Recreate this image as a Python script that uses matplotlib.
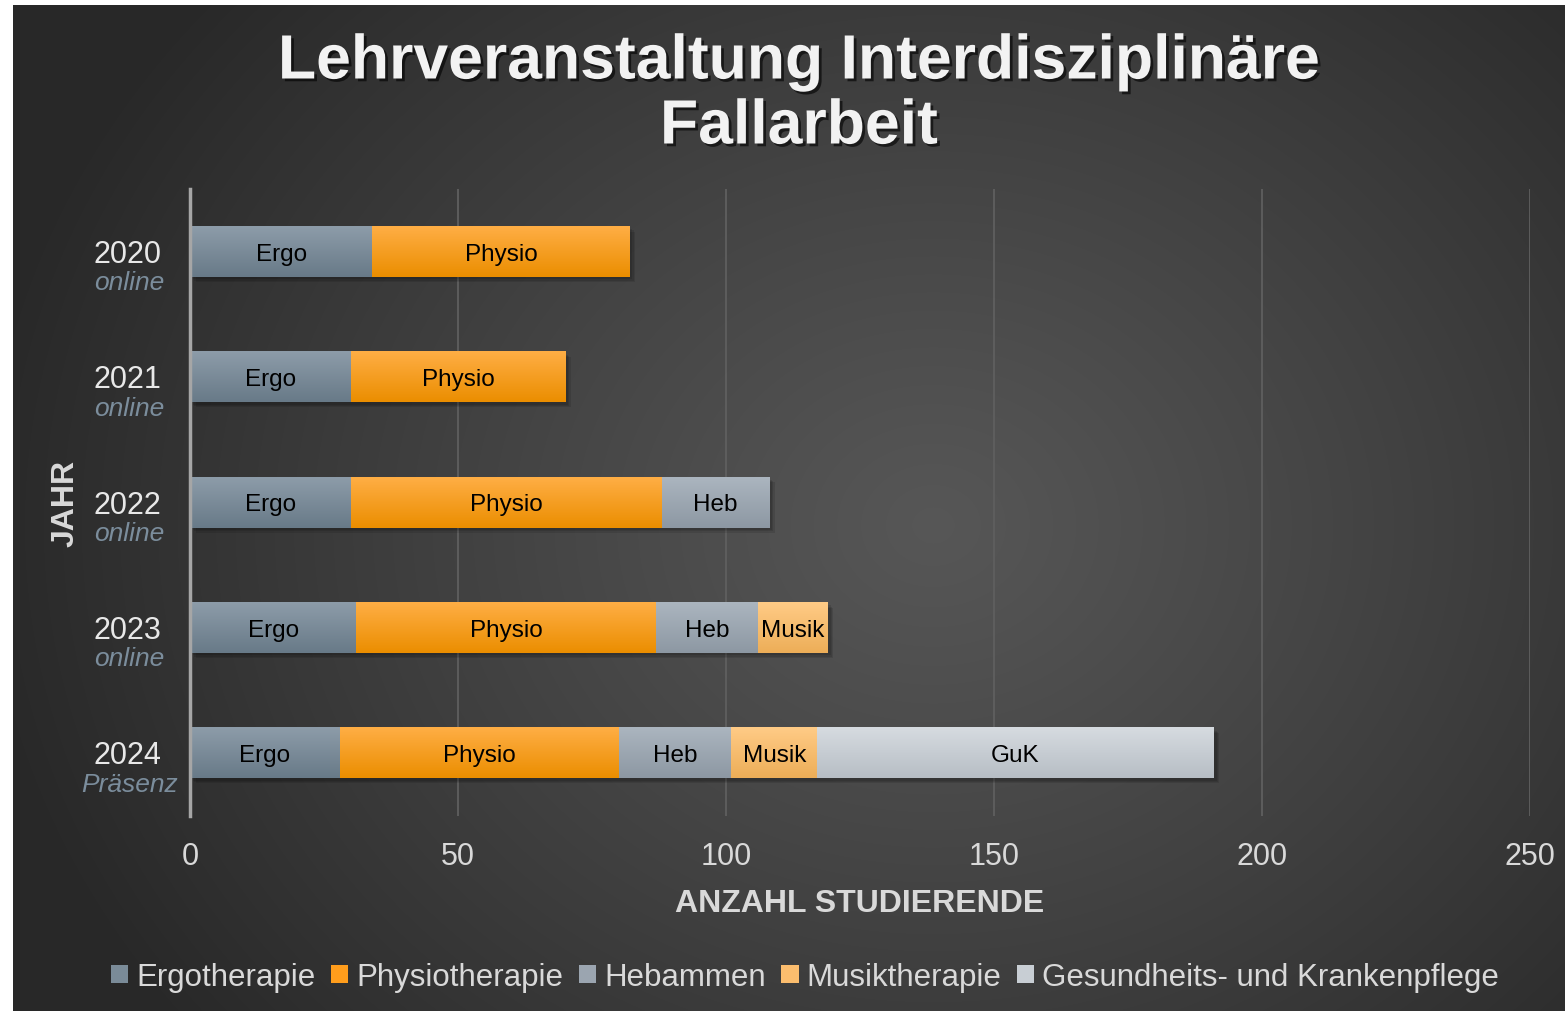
import numpy as np
import matplotlib
matplotlib.use("Agg")
import matplotlib.pyplot as plt
from matplotlib import patheffects
from matplotlib.patches import Patch, Rectangle
from matplotlib.colors import to_rgb

plt.rcParams['font.family'] = ['Liberation Sans', 'DejaVu Sans']

# data
years = ["2020", "2021", "2022", "2023", "2024"]
modes = ["online", "online", "online", "online", "Präsenz"]
series = ["Ergotherapie", "Physiotherapie", "Hebammen", "Musiktherapie",
          "Gesundheits- und Krankenpflege"]
short = ["Ergo", "Physio", "Heb", "Musik", "GuK"]
ergo = [34, 30, 30, 31, 28]
physio = [48, 40, 58, 56, 52]
heb = [0, 0, 20, 19, 21]
musik = [0, 0, 0, 13, 16]
guk = [0, 0, 0, 0, 74]
xticks = [0, 50, 100, 150, 200, 250]

values = [ergo, physio, heb, musik, guk]
top_cols = ["#8d9ca9", "#ffae45", "#abb5bf", "#ffcb86", "#d6dbe0"]
bot_cols = ["#687a88", "#eb8e00", "#8d98a3", "#edae58", "#b7bec5"]
leg_cols = ["#7a8b98", "#ff9d1c", "#9ba5b0", "#fbbd6e", "#c8ced4"]

W, H = 1565, 1012
fig = plt.figure(figsize=(W / 100, H / 100), dpi=100)
fig.patch.set_facecolor("white")

# radial background
bg = fig.add_axes([13 / W, 0, (W - 13) / W, (H - 6) / H], zorder=-10)
yy, xx = np.mgrid[0:1006, 0:1552]
r = np.sqrt(((xx - 920) / 1.0) ** 2 + ((yy - 520) / 0.85) ** 2)
v = 0.34 - 0.18 * np.clip(r / 950, 0, 1) ** 1.1
bg.imshow(np.dstack([v, v, v]), aspect="auto", extent=[0, 1, 0, 1])
bg.axis("off")

ax = fig.add_axes([190 / W, 1 - 817 / H, 1340 / W, 627 / H])
ax.set_facecolor("none")

bar_h = 0.4
for i in range(len(years)):
    left = 0
    total = sum(vals[i] for vals in values)
    # soft shadow
    for k in range(3):
        d = 0.25 + 0.25 * k
        ax.add_patch(Rectangle((0.3 + d, i - bar_h / 2 + 0.02 + 0.01 * k), total, bar_h,
                               facecolor="black", alpha=0.1, lw=0, zorder=2))
    for s, vals in enumerate(values):
        w = vals[i]
        if w == 0:
            continue
        c1, c2 = np.array(to_rgb(top_cols[s])), np.array(to_rgb(bot_cols[s]))
        t = np.linspace(0, 1, 64)[:, None, None]
        grad = c1 * (1 - t) + c2 * t
        ax.imshow(grad, aspect="auto", interpolation="bilinear",
                  extent=[left, left + w, i + bar_h / 2, i - bar_h / 2], zorder=3)
        ax.text(left + w / 2, i + 0.015, short[s], ha="center", va="center",
                fontsize=17.5, color="black", zorder=4)
        left += w

ax.set_xlim(0, 250)
ax.set_ylim(4.5, -0.5)

ax.set_xticks(xticks)
ax.set_yticks([])
ax.xaxis.grid(True, color="#5f5f5f", lw=1.3, zorder=0)
ax.set_axisbelow(True)
ax.tick_params(axis="x", length=0, pad=18, labelsize=22, labelcolor="#d9d9d9")
for sp in ["top", "right", "bottom"]:
    ax.spines[sp].set_visible(False)
ax.spines["left"].set_color("#a6a6a6")
ax.spines["left"].set_linewidth(2.5)
ax.spines["left"].set_zorder(5)

ax.set_xlabel("ANZAHL STUDIERENDE", fontsize=23, fontweight="bold",
              color="#d9d9d9", labelpad=12)

for i, (yr, md) in enumerate(zip(years, modes)):
    ax.annotate(yr, xy=(-0.047, i), xycoords=("axes fraction", "data"),
                xytext=(0, -1.5), textcoords="offset points",
                ha="center", va="center", fontsize=22, color="#e8e8e8")
    ax.annotate(md, xy=(-0.045, i), xycoords=("axes fraction", "data"),
                xytext=(0, -22), textcoords="offset points",
                ha="center", va="center", fontsize=19, color="#7b8d9c",
                style="italic")

fig.text(66 / W, 1 - 503 / H, "JAHR", rotation=90, ha="center", va="center",
         fontsize=23, fontweight="bold", color="#d9d9d9")

shadow = [patheffects.withSimplePatchShadow(offset=(2, -2), shadow_rgbFace="black", alpha=0.6)]
fig.text(799 / W, 1 - 63 / H, "Lehrveranstaltung Interdisziplinäre", ha="center",
         va="center", fontsize=45, fontweight="bold", color="#f2f2f2", path_effects=shadow)
fig.text(799 / W, 1 - 128 / H, "Fallarbeit", ha="center",
         va="center", fontsize=45, fontweight="bold", color="#f2f2f2", path_effects=shadow)

handles = [Patch(facecolor=c, edgecolor="none") for c in leg_cols]
fig.legend(handles, series, loc="center", bbox_to_anchor=(805 / W, 1 - 978 / H),
           ncol=5, frameon=False, fontsize=22.5, labelcolor="#d9d9d9",
           handlelength=0.55, handleheight=0.55, handletextpad=0.26,
           columnspacing=0.5, borderpad=0, borderaxespad=0)

fig.savefig("out.png", dpi=100)
